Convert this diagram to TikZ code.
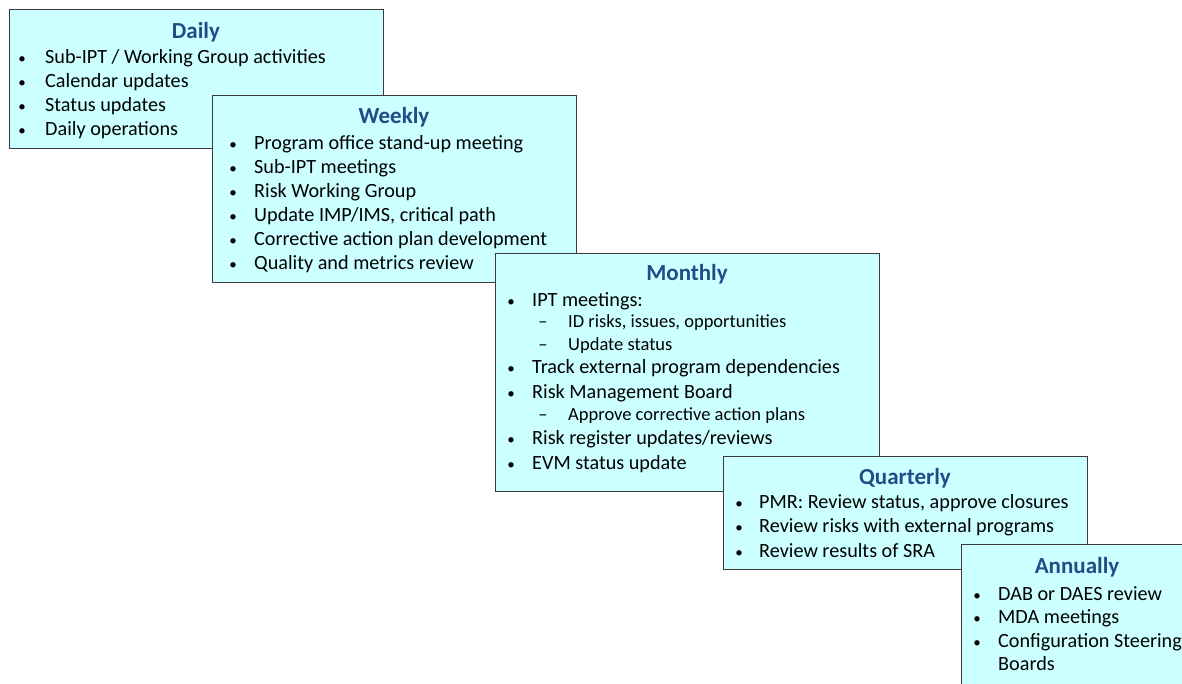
\documentclass[tikz,border=0pt]{standalone}
\usepackage{fontspec}
\setmainfont{Carlito}
\definecolor{boxfill}{HTML}{CCFFFF}
\definecolor{boxline}{HTML}{3A3A3A}
\definecolor{ttl}{HTML}{1F4E86}
\begin{document}
\begin{tikzpicture}[x=1pt,y=-1pt,
  panel/.style={draw=boxline,fill=boxfill,line width=1pt,inner sep=0pt,anchor=north west},
  ttlstyle/.style={anchor=base,inner sep=0pt,text=ttl,font=\fontsize{23}{23}\selectfont\bfseries},
  item/.style={anchor=base west,inner sep=0pt,font=\fontsize{20.2}{20.2}\selectfont},
  subitem/.style={anchor=base west,inner sep=0pt,font=\fontsize{18.5}{18.5}\selectfont},
  bul/.style={anchor=base,inner sep=0pt,font=\fontsize{15}{15}\selectfont},
  dsh/.style={anchor=base,inner sep=0pt,font=\fontsize{18.5}{18.5}\selectfont}]
\useasboundingbox (0,0) rectangle (1182,683);
% Daily
\node[panel,minimum width=374pt,minimum height=139pt] (daily) at (9,9) {};
\node[ttlstyle] (dt) at (196,38) {Daily};
\foreach \t [count=\i] in {Sub-IPT / Working Group activities,Calendar updates,Status updates,Daily operations}{
  \node[bul] (db\i) at (22,{63+24.3*(\i-1)}) {•};
  \node[item] (di\i) at (45,{63+24.3*(\i-1)}) {\t};
}
% Weekly
\node[panel,minimum width=364pt,minimum height=187pt] (weekly) at (212,95) {};
\node[ttlstyle] (wt) at (394,123) {Weekly};
\foreach \t [count=\i] in {Program office stand-up meeting,Sub-IPT meetings,Risk Working Group,{Update IMP/IMS, critical path},Corrective action plan development,Quality and metrics review}{
  \node[bul] (wb\i) at (233,{149+24*(\i-1)}) {•};
  \node[item] (wi\i) at (254,{149+24*(\i-1)}) {\t};
}
% Monthly
\node[panel,minimum width=384pt,minimum height=238pt] (monthly) at (495,253) {};
\node[ttlstyle] (mt) at (687,280) {Monthly};
\node[bul] (mb1) at (511,306) {•}; \node[item] (mi1) at (532,306) {IPT meetings:};
\node[dsh] (md1) at (543,327) {–}; \node[subitem] (ms1) at (568,327) {ID risks, issues, opportunities};
\node[dsh] (md2) at (543,350) {–}; \node[subitem] (ms2) at (568,350) {Update status};
\node[bul] (mb2) at (511,373) {•}; \node[item] (mi2) at (532,373) {Track external program dependencies};
\node[bul] (mb3) at (511,398) {•}; \node[item] (mi3) at (532,398) {Risk Management Board};
\node[dsh] (md3) at (543,420) {–}; \node[subitem] (ms3) at (568,420) {Approve corrective action plans};
\node[bul] (mb4) at (511,444) {•}; \node[item] (mi4) at (532,444) {Risk register updates/reviews};
\node[bul] (mb5) at (511,469) {•}; \node[item] (mi5) at (532,469) {EVM status update};
% Quarterly
\node[panel,minimum width=364pt,minimum height=113pt] (quarterly) at (723,456) {};
\node[ttlstyle] (qt) at (905,484) {Quarterly};
\foreach \t [count=\i] in {{PMR: Review status, approve closures},Review risks with external programs,Review results of SRA}{
  \node[bul] (qb\i) at (739,{508+24.5*(\i-1)}) {•};
  \node[item] (qi\i) at (759,{508+24.5*(\i-1)}) {\t};
}
% Annually
\node[panel,minimum width=240pt,minimum height=160pt] (annually) at (961,544) {};
\node[ttlstyle] (at) at (1077,573) {Annually};
\node[bul] (ab1) at (977,600) {•}; \node[item] (ai1) at (998,600) {DAB or DAES review};
\node[bul] (ab2) at (977,623) {•}; \node[item] (ai2) at (998,623) {MDA meetings};
\node[bul] (ab3) at (977,647) {•}; \node[item] (ai3) at (998,647) {Configuration Steering};
\node[item] (ai4) at (998,670) {Boards};
\end{tikzpicture}
\end{document}
